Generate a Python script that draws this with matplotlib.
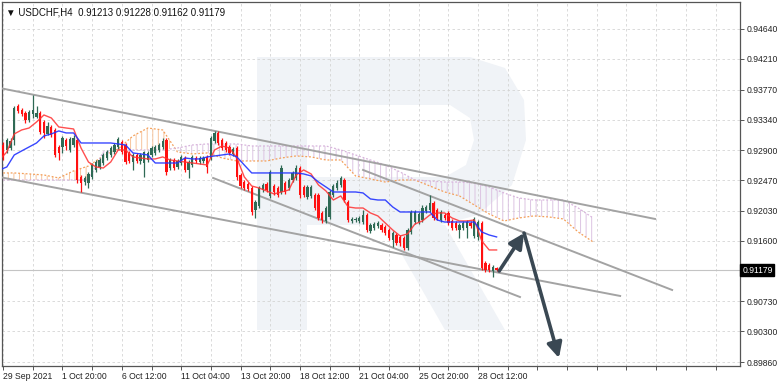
import numpy as np
import matplotlib
matplotlib.use("Agg")
from matplotlib import pyplot as plt
from matplotlib.path import Path
from matplotlib.patches import PathPatch
from matplotlib.transforms import IdentityTransform, blended_transform_factory

plt.rcParams['font.family'] = ['Liberation Sans', 'DejaVu Sans']
plt.rcParams['hatch.linewidth'] = 0.7

# USDCHF H4 candles (bar 0 = 29 Sep 2021 00:00)
opens = [0.93018, 0.92975, 0.92904, 0.92932, 0.93047, 0.93535, 0.93478, 0.93435, 0.93334, 0.93421,
         0.93378, 0.93435, 0.93305, 0.93134, 0.93234, 0.93191, 0.92947, 0.92947, 0.93047, 0.92904,
         0.92975, 0.93047, 0.92517, 0.92444, 0.92430, 0.92517, 0.92617, 0.92660, 0.92717, 0.92789,
         0.92832, 0.92875, 0.92947, 0.93018, 0.92975, 0.92861, 0.92731, 0.92832, 0.92746, 0.92717,
         0.92760, 0.92832, 0.92861, 0.92904, 0.92947, 0.93047, 0.92645, 0.92760, 0.92660, 0.92717,
         0.92789, 0.92617, 0.92688, 0.92789, 0.92731, 0.92746, 0.92804, 0.92789, 0.93033, 0.93148,
         0.93047, 0.93004, 0.92947, 0.92847, 0.92932, 0.92545, 0.92444, 0.92416, 0.92358, 0.92043,
         0.92100, 0.92330, 0.92416, 0.92244, 0.92387, 0.92358, 0.92301, 0.92430, 0.92358, 0.92473,
         0.92502, 0.92645, 0.92373, 0.92230, 0.92244, 0.92258, 0.92258, 0.92000, 0.91885, 0.91943,
         0.92258, 0.92358, 0.92401, 0.92473, 0.92157, 0.91885, 0.91899, 0.91885, 0.91870, 0.91971,
         0.91742, 0.91784, 0.91813, 0.91827, 0.91799, 0.91756, 0.91612, 0.91684, 0.91656, 0.91641,
         0.91497, 0.91727, 0.91870, 0.91870, 0.91899, 0.92029, 0.92043, 0.92143, 0.92043, 0.91899,
         0.91971, 0.92000, 0.91885, 0.91856, 0.91756, 0.91784, 0.91784, 0.91856, 0.91670, 0.91656,
         0.91856, 0.91282, 0.91253, 0.91168, 0.91213]
highs = [0.93047, 0.93018, 0.93076, 0.93076, 0.93535, 0.93564, 0.93506, 0.93464, 0.93478, 0.93693,
         0.93535, 0.93464, 0.93334, 0.93305, 0.93262, 0.93219, 0.92975, 0.93105, 0.93076, 0.93091,
         0.93119, 0.93076, 0.92545, 0.92531, 0.92588, 0.92717, 0.92760, 0.92789, 0.92861, 0.92904,
         0.92961, 0.93004, 0.93091, 0.93047, 0.93004, 0.92890, 0.92861, 0.92861, 0.92861, 0.92890,
         0.92890, 0.92961, 0.92975, 0.93004, 0.93076, 0.93076, 0.92789, 0.92789, 0.92775, 0.92832,
         0.92818, 0.92760, 0.92832, 0.92818, 0.92818, 0.92818, 0.92832, 0.93105, 0.93177, 0.93177,
         0.93076, 0.93033, 0.92975, 0.92947, 0.92961, 0.92574, 0.92473, 0.92444, 0.92387, 0.92186,
         0.92387, 0.92430, 0.92444, 0.92617, 0.92416, 0.92387, 0.92688, 0.92459, 0.92502, 0.92603,
         0.92688, 0.92674, 0.92401, 0.92401, 0.92401, 0.92287, 0.92287, 0.92029, 0.92100, 0.92330,
         0.92416, 0.92473, 0.92531, 0.92502, 0.92186, 0.91943, 0.91943, 0.91957, 0.92043, 0.92000,
         0.91856, 0.91870, 0.91885, 0.91856, 0.91827, 0.91784, 0.91742, 0.91713, 0.91684, 0.91670,
         0.91784, 0.92043, 0.92043, 0.92014, 0.92114, 0.92114, 0.92258, 0.92172, 0.92071, 0.92043,
         0.92000, 0.92029, 0.91914, 0.91885, 0.91856, 0.91885, 0.91899, 0.91885, 0.91943, 0.91899,
         0.91885, 0.91311, 0.91282, 0.91253, 0.91228]
lows = [0.92832, 0.92760, 0.92861, 0.92904, 0.92975, 0.93435, 0.93392, 0.93291, 0.93305, 0.93363,
        0.93363, 0.93134, 0.93076, 0.93119, 0.93091, 0.92804, 0.92760, 0.92861, 0.92904, 0.92875,
        0.92947, 0.92430, 0.92301, 0.92401, 0.92358, 0.92488, 0.92588, 0.92631, 0.92688, 0.92760,
        0.92804, 0.92847, 0.92918, 0.92847, 0.92703, 0.92717, 0.92617, 0.92717, 0.92703, 0.92517,
        0.92731, 0.92804, 0.92832, 0.92875, 0.92918, 0.92545, 0.92617, 0.92617, 0.92631, 0.92688,
        0.92588, 0.92502, 0.92660, 0.92717, 0.92703, 0.92717, 0.92574, 0.92760, 0.93004, 0.92975,
        0.92904, 0.92875, 0.92832, 0.92818, 0.92473, 0.92358, 0.92330, 0.92316, 0.91971, 0.91928,
        0.92071, 0.92301, 0.92301, 0.92215, 0.92258, 0.92230, 0.92273, 0.92273, 0.92330, 0.92444,
        0.92473, 0.92215, 0.92230, 0.92201, 0.92215, 0.92043, 0.91899, 0.91856, 0.91856, 0.91914,
        0.92230, 0.92330, 0.92373, 0.92157, 0.91870, 0.91856, 0.91870, 0.91856, 0.91842, 0.91727,
        0.91713, 0.91756, 0.91784, 0.91727, 0.91684, 0.91612, 0.91512, 0.91540, 0.91526, 0.91469,
        0.91469, 0.91699, 0.91842, 0.91842, 0.91870, 0.92000, 0.92014, 0.91899, 0.91899, 0.91870,
        0.91899, 0.91827, 0.91756, 0.91756, 0.91641, 0.91756, 0.91641, 0.91784, 0.91641, 0.91612,
        0.91182, 0.91153, 0.91153, 0.91082, 0.91162]
closes = [0.92904, 0.92804, 0.93047, 0.93033, 0.93506, 0.93464, 0.93421, 0.93334, 0.93449, 0.93478,
          0.93435, 0.93162, 0.93148, 0.93248, 0.93119, 0.92832, 0.92861, 0.93076, 0.92961, 0.93062,
          0.93076, 0.92473, 0.92430, 0.92502, 0.92560, 0.92688, 0.92731, 0.92760, 0.92832, 0.92875,
          0.92932, 0.92975, 0.93062, 0.92875, 0.92731, 0.92746, 0.92832, 0.92746, 0.92832, 0.92875,
          0.92861, 0.92932, 0.92947, 0.92975, 0.93033, 0.92588, 0.92760, 0.92645, 0.92746, 0.92804,
          0.92617, 0.92731, 0.92804, 0.92746, 0.92789, 0.92789, 0.92660, 0.93076, 0.93148, 0.93004,
          0.92932, 0.92904, 0.92861, 0.92918, 0.92517, 0.92387, 0.92358, 0.92344, 0.92014, 0.92157,
          0.92358, 0.92401, 0.92330, 0.92588, 0.92301, 0.92258, 0.92645, 0.92301, 0.92473, 0.92574,
          0.92645, 0.92258, 0.92258, 0.92373, 0.92373, 0.92071, 0.91928, 0.91899, 0.92071, 0.92301,
          0.92387, 0.92430, 0.92502, 0.92186, 0.91899, 0.91914, 0.91914, 0.91928, 0.91971, 0.91756,
          0.91827, 0.91842, 0.91856, 0.91756, 0.91713, 0.91641, 0.91713, 0.91569, 0.91569, 0.91497,
          0.91756, 0.92014, 0.92014, 0.91986, 0.92071, 0.92086, 0.92143, 0.91928, 0.91928, 0.92014,
          0.91928, 0.91856, 0.91784, 0.91784, 0.91827, 0.91856, 0.91870, 0.91813, 0.91914, 0.91870,
          0.91210, 0.91182, 0.91182, 0.91225, 0.91179]

# Ichimoku lines, read every 2 bars
line_idx = list(range(0, 135, 2))
tenkan = [0.92760, 0.92875, 0.93134, 0.93191, 0.93219, 0.93305, 0.93406, 0.93363, 0.93234, 0.93219,
          0.93205, 0.92932, 0.92731, 0.92660, 0.92645, 0.92731, 0.92904, 0.92904, 0.92804, 0.92789,
          0.92775, 0.92775, 0.92804, 0.92760, 0.92746, 0.92731, 0.92717, 0.92703, 0.92688, 0.92904,
          0.92961, 0.92932, 0.92789, 0.92517, 0.92387, 0.92358, 0.92316, 0.92273, 0.92301, 0.92330,
          0.92545, 0.92617, 0.92560, 0.92401, 0.92316, 0.92186, 0.92244, 0.92086, 0.92071, 0.92071,
          0.92000, 0.91957, 0.91856, 0.91756, 0.91670, 0.91699, 0.91842, 0.91885, 0.91971, 0.92000,
          0.92000, 0.91928, 0.91885, 0.91885, 0.91899, 0.91598, 0.91469, 0.91469]
kijun = [0.92617, 0.92660, 0.92832, 0.92890, 0.92947, 0.93004, 0.93105, 0.93134, 0.93177, 0.93148,
         0.93148, 0.93004, 0.93004, 0.93004, 0.93004, 0.93004, 0.92990, 0.92975, 0.92861, 0.92847,
         0.92832, 0.92717, 0.92717, 0.92717, 0.92717, 0.92789, 0.92775, 0.92775, 0.92804, 0.92818,
         0.92832, 0.92847, 0.92804, 0.92688, 0.92574, 0.92574, 0.92574, 0.92574, 0.92574, 0.92574,
         0.92574, 0.92560, 0.92531, 0.92444, 0.92373, 0.92301, 0.92301, 0.92301, 0.92301, 0.92287,
         0.92201, 0.92186, 0.92186, 0.92086, 0.92014, 0.92014, 0.92014, 0.92014, 0.92014, 0.91899,
         0.91870, 0.91870, 0.91870, 0.91870, 0.91870, 0.91727, 0.91684, 0.91656]

# cloud (already shifted 26 bars ahead), read every 4 bars
cloud_idx = list(range(0, 161, 4))
span_a = [0.92574, 0.92574, 0.92560, 0.92545, 0.92502, 0.92603, 0.92674, 0.92818, 0.92918, 0.93105,
          0.93219, 0.93191, 0.92875, 0.92847, 0.92861, 0.92789, 0.92746, 0.92746, 0.92746, 0.92789,
          0.92818, 0.92804, 0.92760, 0.92760, 0.92531, 0.92488, 0.92444, 0.92473, 0.92473, 0.92387,
          0.92301, 0.92244, 0.92114, 0.91986, 0.91885, 0.91928, 0.91957, 0.91943, 0.91914, 0.91727,
          0.91584]
span_b = [0.92473, 0.92473, 0.92473, 0.92473, 0.92473, 0.92473, 0.92473, 0.92875, 0.92904, 0.92904,
          0.92904, 0.92904, 0.92932, 0.92975, 0.92990, 0.92990, 0.92990, 0.92961, 0.92961, 0.92961,
          0.92961, 0.92961, 0.92961, 0.92904, 0.92832, 0.92760, 0.92688, 0.92588, 0.92473, 0.92459,
          0.92444, 0.92444, 0.92430, 0.92373, 0.92287, 0.92215, 0.92186, 0.92186, 0.92186, 0.92071,
          0.91928]

# drawn channel lines and forecast arrows: (bar, price) pairs
channels = [[(0, 0.93794), (176.7, 0.91914)],
            [(0, 0.92516), (167.3, 0.90809)],
            [(98.0, 0.92617), (181.3, 0.90895)],
            [(57.6, 0.92502), (140.3, 0.90794)]]
arrows = [[(134.7, 0.91167), (141.4, 0.91711)],
          [(141.4, 0.91711), (150.8, 0.89919)]]

price_ticks = [0.94640, 0.94210, 0.93770, 0.93340, 0.92900, 0.92470, 0.92030, 0.91600,
               0.90730, 0.90300, 0.89860]
date_pos = [1, 17, 33, 49, 65, 81, 97, 113, 129]
date_labels = ['29 Sep 2021', '1 Oct 20:00', '6 Oct 12:00', '11 Oct 04:00', '13 Oct 20:00',
               '18 Oct 12:00', '21 Oct 04:00', '25 Oct 20:00', '28 Oct 12:00']
last_price = 0.91179

fig = plt.figure(figsize=(7.82, 3.85), dpi=100)
ax = fig.add_axes([2 / 782, 19 / 385, 738 / 782, 364 / 385])

# watermark "R" (pixel coords from top-left)
H = 385
def px(pts):
    return [(x, H - y) for x, y in pts]
outer = px([(257, 57), (470, 57), (505, 68), (524, 100), (526, 140), (512, 185), (478, 215),
            (440, 225), (307, 225), (307, 330), (257, 330), (257, 57)])
hole = px([(307, 105), (450, 105), (470, 118), (474, 140), (466, 165), (445, 177), (307, 177),
           (307, 105)])
leg = px([(385, 225), (445, 225), (505, 330), (445, 330), (385, 225)])
verts = outer + hole[::-1] + leg
codes = ([Path.MOVETO] + [Path.LINETO] * (len(outer) - 2) + [Path.CLOSEPOLY] +
         [Path.MOVETO] + [Path.LINETO] * (len(hole) - 2) + [Path.CLOSEPOLY] +
         [Path.MOVETO] + [Path.LINETO] * (len(leg) - 2) + [Path.CLOSEPOLY])
ax.add_patch(PathPatch(Path(verts, codes), transform=IdentityTransform(),
                       facecolor='#f0f3f7', edgecolor='none', zorder=0))

# cloud
ci = np.array(cloud_idx)
sa = np.array(span_a)
sb = np.array(span_b)
ax.fill_between(ci, sa, sb, where=sa >= sb, interpolate=True, facecolor='none',
                edgecolor='#f7c49c', hatch='|||', linewidth=0, zorder=1)
ax.fill_between(ci, sa, sb, where=sa < sb, interpolate=True, facecolor='none',
                edgecolor='#dcc4e2', hatch='|||', linewidth=0, zorder=1)
ax.plot(ci, sa, color='#f4a05a', lw=0.9, ls=(0, (1.5, 1.5)), zorder=2)
ax.plot(ci, sb, color='#d8b4dc', lw=0.9, ls=(0, (1.5, 1.5)), zorder=2)

# trend lines
for (x0, y0), (x1, y1) in channels:
    ax.plot([x0, x1], [y0, y1], color='#a3a3a3', lw=1.4, zorder=3)

# candles
idx = np.arange(len(opens))
o = np.array(opens)
c = np.array(closes)
up = c >= o
col = np.where(up, '#2f6a55', '#ff1010')
ax.vlines(idx, lows, highs, colors=col, lw=0.9, zorder=4)
ax.bar(idx, np.where(np.abs(c - o) < 0.00003, 0.00003, c - o), bottom=o, width=0.62,
       color=col, linewidth=0, zorder=5)

# tenkan / kijun
ax.plot(line_idx, tenkan, color='#ff3030', lw=1.0, alpha=0.85, zorder=6)
ax.plot(line_idx, kijun, color='#2233ff', lw=1.0, alpha=0.9, zorder=6)

# forecast arrows
for (x0, y0), (x1, y1) in arrows:
    ax.annotate('', xy=(x1, y1), xytext=(x0, y0),
                arrowprops=dict(arrowstyle='-|>,head_length=0.9,head_width=0.45',
                                color='#3a4853', lw=2.6, shrinkA=0, shrinkB=0), zorder=7)

# last price line
ax.axhline(last_price, color='#c4c4c4', lw=0.8, zorder=2)

ax.set_xlim(0.7, 199.6)
ax.set_ylim(0.89804, 0.95027)

ax.yaxis.tick_right()
ax.set_yticks(price_ticks)
ax.set_yticklabels(['%.5f' % v for v in price_ticks])
ax.set_xticks(date_pos)
ax.set_xticklabels(date_labels, ha='left')
ax.set_xticks(np.arange(1, 200, 8), minor=True)
ax.tick_params(axis='y', length=3, width=0.7, color='#555555', labelsize=6.2, pad=1.5,
               labelcolor='#222222')
ax.tick_params(axis='x', which='both', length=3, width=0.7, color='#555555', labelsize=6.2,
               pad=1.5, labelcolor='#222222')
ax.grid(True, which='both', color='#d4d4d4', lw=0.6, ls=(0, (3, 3)), zorder=0)
for s in ax.spines.values():
    s.set_color('#555555')
    s.set_linewidth(0.9)
ax.set_axisbelow(True)

tr = blended_transform_factory(ax.transAxes, ax.transData)
ax.text(1.003, last_price, '%.5f' % last_price, transform=tr, va='center', ha='left',
        fontsize=6.2, color='white', clip_on=False,
        bbox=dict(boxstyle='square,pad=0.2', facecolor='black', edgecolor='black'))

ax.text(0.006, 0.985, '\u25bc USDCHF,H4  0.91213 0.91228 0.91162 0.91179', transform=ax.transAxes,
        ha='left', va='top', fontsize=7.0, color='#111111',
        family=['Liberation Sans', 'DejaVu Sans'])

fig.savefig('out.png', dpi=100)
